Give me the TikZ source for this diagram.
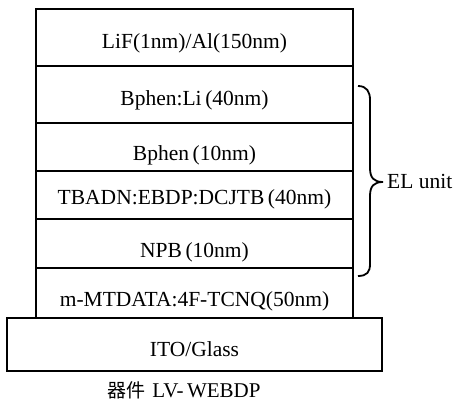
\documentclass[tikz,border=0pt]{standalone}
\usepackage{fontspec}
\setmainfont{Liberation Serif}
\newfontfamily\cjk{Noto Sans CJK SC}
\begin{document}
\begin{tikzpicture}[x=1pt,y=1pt,
  layer/.style={draw=black,line width=1.8pt,inner sep=0pt,rectangle},
  lbl/.style={anchor=base,inner sep=0pt,font=\fontsize{21.5}{24}\selectfont},
  bracepath/.style={draw=black,line width=1.8pt}]
\useasboundingbox (0,0) rectangle (456,-409);
% device stack, layer by layer (top to bottom)
\node[layer,minimum width=317,minimum height=57] (lif)  at (194.5,-37.5) {};
\node[layer,minimum width=317,minimum height=57] (etl)  at (194.5,-94.5) {};
\node[layer,minimum width=317,minimum height=48] (hbl)  at (194.5,-147) {};
\node[layer,minimum width=317,minimum height=48] (eml)  at (194.5,-195) {};
\node[layer,minimum width=317,minimum height=49] (htl)  at (194.5,-243.5) {};
\node[layer,minimum width=317,minimum height=50] (hil)  at (194.5,-293) {};
\node[layer,minimum width=375,minimum height=53] (ito)  at (194.5,-344.5) {};
% layer labels
\node[lbl] (tlif) at (194.5,-48.3) {LiF(1nm)/Al(150nm)};
\node[lbl] (tetl) at (194.5,-106) {Bphen:Li\,(40nm)};
\node[lbl] (thbl) at (194.5,-160.7) {Bphen\,(10nm)};
\node[lbl] (teml) at (194.5,-205) {TBADN:EBDP:DCJTB\,(40nm)};
\node[lbl] (thtl) at (194.5,-258) {NPB\,(10nm)};
\node[lbl] (thil) at (194.5,-307) {m-MTDATA:4F-TCNQ(50nm)};
\node[lbl] (tito) at (194.5,-356.7) {ITO/Glass};
% brace around the EL unit
\coordinate (btop) at (358,-86);
\coordinate (btip) at (383,-182);
\coordinate (bbot) at (358,-276);
\draw[bracepath] (btop) .. controls (367,-86) and (370,-92) .. (370,-100)
  -- (370,-168) .. controls (370,-178) and (374,-182) .. (btip)
  .. controls (374,-182) and (370,-186) .. (370,-196)
  -- (370,-264) .. controls (370,-272) and (367,-276) .. (bbot);
\node[anchor=base west,inner sep=0pt,font=\fontsize{21.5}{24}\selectfont] (elu) at (387,-189) {EL\ unit};
% caption
\node[anchor=base,inner sep=0pt,font=\fontsize{21}{24}\selectfont] (cap) at (184,-398) {{\cjk\fontsize{19}{22}\selectfont 器件}\hspace{7pt}LV-\,WEBDP};
\end{tikzpicture}
\end{document}
